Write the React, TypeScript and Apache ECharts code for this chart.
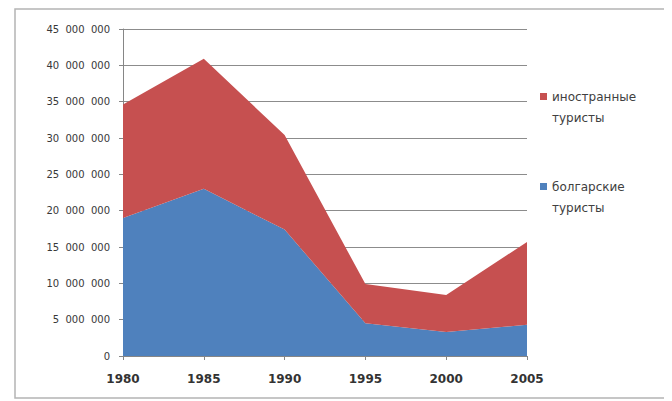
import React, { useEffect, useRef } from "react";
import * as echarts from "echarts";

// Tourist arrivals by year (people)
const years = ["1980", "1985", "1990", "1995", "2000", "2005"];
const bulgarianTourists = [19000000, 23000000, 17400000, 4500000, 3300000, 4300000];
const foreignTourists = [15600000, 17900000, 13000000, 5400000, 5100000, 11400000];
const seriesNames = ["болгарские туристы", "иностранные туристы"];
const legendLines = [
  ["иностранные", "туристы"],
  ["болгарские", "туристы"],
];

const BLUE = "#4F81BD";
const RED = "#C65050";

// thousands separated with figure spaces, e.g. 45 000 000
const formatThousands = (v: number) =>
  String(Math.round(v)).replace(/\B(?=(\d{3})+(?!\d))/g, "\u2007");

export default function App() {
  const ref = useRef<HTMLDivElement>(null);

  useEffect(() => {
    if (!ref.current) return;
    const chart = echarts.init(ref.current, undefined, { renderer: "svg" });
    const font = "'DejaVu Sans', 'Open Sans', sans-serif";
    const legendColors = [RED, BLUE];
    const legendTops = [93, 183];
    const legendGraphics: any[] = [];
    legendLines.forEach((lines, i) => {
      legendGraphics.push({
        type: "rect",
        shape: { x: 540, y: legendTops[i], width: 7, height: 7 },
        style: { fill: legendColors[i] },
        silent: true,
      });
      lines.forEach((line, j) => {
        legendGraphics.push({
          type: "text",
          x: 552,
          y: legendTops[i] + 3.5 + j * 21,
          style: {
            text: line,
            fill: "#404040",
            font: `12px ${font}`,
            verticalAlign: "middle",
            align: "left",
          },
          silent: true,
        });
      });
    });

    chart.setOption({
      animation: false,
      backgroundColor: "#ffffff",
      textStyle: { fontFamily: font },
      graphic: [
        {
          type: "rect",
          shape: { x: 15, y: 9, width: 650, height: 389 },
          style: { fill: "none", stroke: "#b4b4b4", lineWidth: 1.5 },
          silent: true,
        },
        ...legendGraphics,
      ],
      grid: { left: 123, right: 145, top: 29, bottom: 45, containLabel: false },
      xAxis: {
        type: "category",
        boundaryGap: false,
        data: years,
        axisLine: { lineStyle: { color: "#868686", width: 1 } },
        axisTick: { show: true, length: 4, lineStyle: { color: "#868686" } },
        axisLabel: { color: "#333333", fontSize: 12, fontWeight: "bold", margin: 17 },
        splitLine: { show: false },
      },
      yAxis: {
        type: "value",
        min: 0,
        max: 45000000,
        interval: 5000000,
        axisLine: { show: true, lineStyle: { color: "#868686", width: 1 } },
        axisTick: { show: true, length: 4, lineStyle: { color: "#868686" } },
        axisLabel: {
          color: "#383838",
          fontSize: 10,
          margin: 13,
          formatter: (v: number) => formatThousands(v),
        },
        splitLine: { show: true, lineStyle: { color: "#8c8c8c", width: 1 } },
      },
      series: [
        {
          name: seriesNames[0],
          type: "line",
          stack: "total",
          data: bulgarianTourists,
          symbol: "none",
          lineStyle: { width: 0 },
          areaStyle: { color: BLUE, opacity: 1 },
          itemStyle: { color: BLUE },
          z: 3,
        },
        {
          name: seriesNames[1],
          type: "line",
          stack: "total",
          data: foreignTourists,
          symbol: "none",
          lineStyle: { width: 0 },
          areaStyle: { color: RED, opacity: 1 },
          itemStyle: { color: RED },
          z: 3,
        },
      ],
    });
    return () => chart.dispose();
  }, []);

  return <div ref={ref} style={{ width: 672, height: 401, marginTop: -8, marginLeft: -8 }} />;
}
